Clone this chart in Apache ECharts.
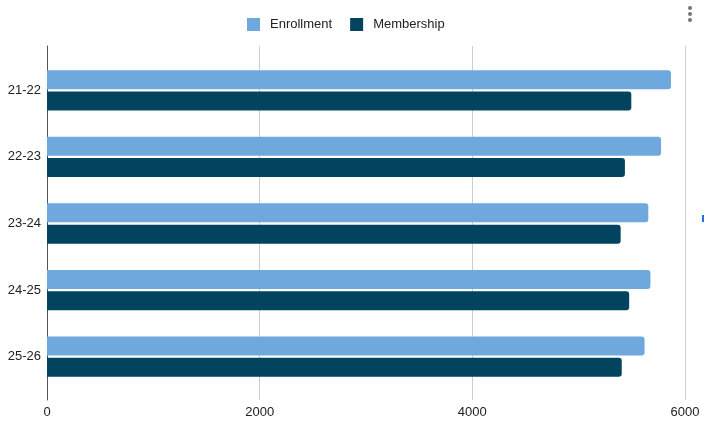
<!DOCTYPE html>
<html><head><meta charset="utf-8">
<script src="https://cdn.jsdelivr.net/npm/echarts@6/dist/echarts.min.js"></script>
<style>html,body{margin:0;padding:0;background:#fff}#c{width:704px;height:428px}</style>
</head><body><div id="c"></div>
<script>
var categories = ['21-22','22-23','23-24','24-25','25-26'];
var enrollment = [5868, 5775, 5655, 5675, 5620];
var membership = [5495, 5435, 5395, 5475, 5405];
var xTicks = [0, 2000, 4000, 6000];

var chart = echarts.init(document.getElementById('c'));
chart.setOption({
  animation: false,
  textStyle: {fontFamily: 'Liberation Sans, Arial, sans-serif'},
  legend: {
    top: 18, left: 247, padding: 0, itemWidth: 13, itemHeight: 13, itemGap: 18,
    icon: 'rect',
    textStyle: {fontSize: 13, color: '#222', padding: [0, 0, 0, 5]},
    data: ['Enrollment', 'Membership']
  },
  grid: [
    {left: 47, right: 19, top: 57, bottom: 38},
    {left: 47, right: 19, top: 46, bottom: 28}
  ],
  xAxis: [
    {gridIndex: 0, type: 'value', min: 0, max: 6000, interval: 2000, show: false},
    {gridIndex: 1, type: 'value', min: 0, max: 6000, interval: 2000,
      axisLine: {show: false}, axisTick: {show: false},
      axisLabel: {color: '#222', fontSize: 13, margin: 6,
        formatter: function (v) { return xTicks.indexOf(v) >= 0 ? String(v) : ''; }},
      splitLine: {show: true, lineStyle: {color: '#cccccc', width: 1}}}
  ],
  yAxis: [
    {gridIndex: 0, type: 'category', data: categories, inverse: true,
      axisLine: {show: false}, axisTick: {show: false},
      axisLabel: {color: '#222', fontSize: 13, margin: 6}},
    {gridIndex: 1, type: 'value', min: 0, max: 1,
      axisLine: {show: true, lineStyle: {color: '#555', width: 1}},
      axisTick: {show: false}, axisLabel: {show: false}, splitLine: {show: false}}
  ],
  series: [
    {name: 'Enrollment', type: 'bar', xAxisIndex: 0, yAxisIndex: 0, data: enrollment,
      barWidth: 19, barGap: '12%', itemStyle: {color: '#6fa8dc', borderRadius: [0, 3, 3, 0]}},
    {name: 'Membership', type: 'bar', xAxisIndex: 0, yAxisIndex: 0, data: membership,
      barWidth: 19, itemStyle: {color: '#02445f', borderRadius: [0, 3, 3, 0]}}
  ],
  graphic: [
    {type: 'circle', shape: {cx: 690, cy: 8, r: 2}, style: {fill: '#757575'}},
    {type: 'circle', shape: {cx: 690, cy: 14, r: 2}, style: {fill: '#757575'}},
    {type: 'circle', shape: {cx: 690, cy: 20, r: 2}, style: {fill: '#757575'}},
    {type: 'rect', shape: {x: 702, y: 215, width: 2, height: 7}, style: {fill: '#1a73e8'}}
  ]
});
</script></body></html>
